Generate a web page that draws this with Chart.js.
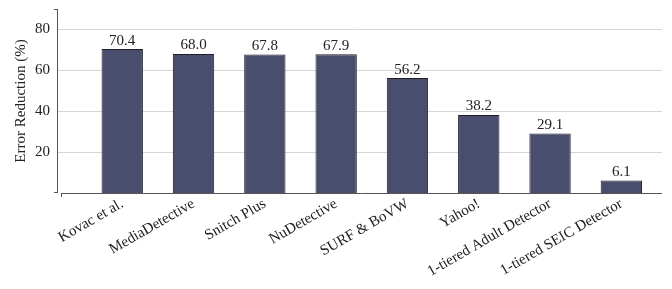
<!DOCTYPE html>
<html>
<head>
<meta charset="utf-8">
<script src="https://cdn.jsdelivr.net/npm/chart.js@4"></script>
<style>
  html, body { margin: 0; padding: 0; background: #fff; }
  #wrap { width: 672px; height: 289px; }
</style>
</head>
<body>
<div id="wrap"><canvas id="chart" width="672" height="289"></canvas></div>
<script>
const categories = ['Kovac et al.', 'MediaDetective', 'Snitch Plus', 'NuDetective', 'SURF & BoVW', 'Yahoo!', '1-tiered Adult Detector', '1-tiered SEIC Detector'];
const reductions = [70.4, 68.0, 67.8, 67.9, 56.2, 38.2, 29.1, 6.1];
const yTicks = [20, 40, 60, 80];

const serif = '"Liberation Serif", "DejaVu Serif", serif';

// value labels above each bar
const valueLabels = {
  id: 'valueLabels',
  afterDatasetsDraw(chart) {
    const ctx = chart.ctx;
    const meta = chart.getDatasetMeta(0);
    ctx.save();
    ctx.font = '15px ' + serif;
    ctx.fillStyle = '#222';
    ctx.textAlign = 'center';
    ctx.textBaseline = 'bottom';
    meta.data.forEach((bar, i) => {
      ctx.fillText(reductions[i].toFixed(1), bar.x, bar.y - 1);
    });
    ctx.restore();
  }
};

// pgfplots-like axis lines with small end ticks
const axisLines = {
  id: 'axisLines',
  afterDraw(chart) {
    const { ctx, chartArea: a } = chart;
    ctx.save();
    ctx.strokeStyle = '#555';
    ctx.lineWidth = 1;
    ctx.beginPath();
    // y axis
    ctx.moveTo(a.left + 0.5, a.top);
    ctx.lineTo(a.left + 0.5, a.bottom);
    ctx.moveTo(a.left - 3, a.top + 0.5);
    ctx.lineTo(a.left + 0.5, a.top + 0.5);
    ctx.moveTo(a.left - 3, a.bottom - 0.5);
    ctx.lineTo(a.left + 0.5, a.bottom - 0.5);
    // x axis
    ctx.moveTo(a.left + 4, a.bottom + 0.5);
    ctx.lineTo(a.right, a.bottom + 0.5);
    ctx.moveTo(a.left + 4.5, a.bottom + 0.5);
    ctx.lineTo(a.left + 4.5, a.bottom + 4);
    ctx.stroke();
    ctx.restore();
  }
};

new Chart(document.getElementById('chart').getContext('2d'), {
  type: 'bar',
  data: {
    datasets: [{
      data: reductions.map((v, i) => ({ x: i, y: v })),
      backgroundColor: 'rgb(74,78,110)',
      borderColor: '#1e1e28',
      borderWidth: 1,
      barPercentage: 0.58,
      categoryPercentage: 1.0
    }]
  },
  options: {
    responsive: false,
    animation: false,
    layout: { padding: { top: 9, right: 10, left: 0, bottom: 0 } },
    plugins: {
      legend: { display: false },
      tooltip: { enabled: false }
    },
    scales: {
      x: {
        type: 'linear',
        offset: false,
        min: -0.915,
        max: 7.57,
        grid: { display: false, offset: false },
        border: { display: false },
        afterBuildTicks: s => { s.ticks = categories.map((c, i) => ({ value: i })); },
        afterFit: s => { s.height = 96; s.paddingLeft = 0; s.paddingRight = 0; },
        ticks: {
          autoSkip: false,
          minRotation: 30,
          maxRotation: 30,
          padding: -6,
          color: '#222',
          font: { family: serif, size: 15 },
          callback: v => categories[v] || ''
        }
      },
      y: {
        min: 0,
        max: 90,
        border: { display: false },
        grid: { color: '#d6d6d6', drawTicks: false },
        afterBuildTicks: s => { s.ticks = yTicks.map(v => ({ value: v })); },
        afterFit: s => { s.width = 57; s.paddingTop = 0; s.paddingBottom = 0; },
        ticks: {
          padding: 7,
          color: '#222',
          font: { family: serif, size: 15 }
        },
        title: {
          display: true,
          text: 'Error Reduction (%)',
          color: '#222',
          font: { family: serif, size: 15 },
          padding: { top: 12, bottom: 0 }
        }
      }
    }
  },
  plugins: [valueLabels, axisLines]
});
</script>
</body>
</html>
